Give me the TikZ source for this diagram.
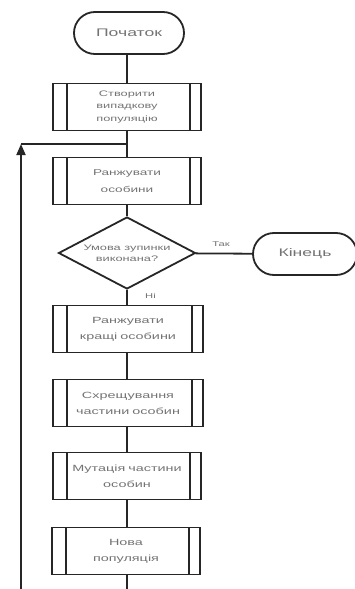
\documentclass[tikz,border=0pt]{standalone}
\usepackage{fontspec}
\setmainfont{Liberation Sans}
\newfontfamily\widesans[FakeStretch=1.6]{Liberation Sans}
\usetikzlibrary{shapes.geometric,shapes.misc,arrows.meta}
\begin{document}
\begin{tikzpicture}[x=1pt,y=-1pt,
  txt/.style={text=black!55,font=\widesans\fontsize{9}{16}\selectfont,align=center},
  term/.style={txt,font=\widesans\fontsize{11}{13}\selectfont,draw=black!85,line width=1.8pt,rounded rectangle,minimum width=110pt,minimum height=42pt,inner sep=0pt},
  subproc/.style={txt,draw=black!85,line width=1.8pt,rectangle,minimum width=148pt,minimum height=47pt,inner sep=0pt,text width=130pt,
    path picture={
      \draw[black!85,line width=1.6pt] ([xshift=14pt]path picture bounding box.north west) -- ([xshift=14pt]path picture bounding box.south west);
      \draw[black!85,line width=1.6pt] ([xshift=-11pt]path picture bounding box.north east) -- ([xshift=-11pt]path picture bounding box.south east);
    }},
  dec/.style={txt,font=\widesans\fontsize{8}{11}\selectfont,draw=black!85,line width=1.8pt,diamond,aspect=2.05,minimum width=137pt,minimum height=72pt,inner sep=0pt},
  conn/.style={black!85,line width=1.8pt},
  lbl/.style={text=black!55,font=\widesans\fontsize{7}{8}\selectfont}
]
\useasboundingbox (0,0) rectangle (355,589);
\node[term] (start) at (129,33) {Початок};
\node[subproc,font=\widesans\fontsize{8}{12.5}\selectfont] (p1) at (127,107) {Створити\\випадкову\\популяцію};
\node[subproc,font=\widesans\fontsize{8.5}{17}\selectfont] (p2) at (127,181) {Ранжувати\\особини};
\node[dec] (d) at (127,253) {Умова зупинки\\виконана?};
\node[term,minimum width=104pt] (end) at (305,254) {Кінець};
\node[subproc,minimum width=150pt] (p3) at (128,329) {Ранжувати\\кращі особини};
\node[subproc,minimum width=150pt] (p4) at (128,403) {Схрещування\\частини особин};
\node[subproc] (p5) at (127,476) {Мутація частини\\особин};
\node[subproc] (p6) at (126,551) {Нова\\популяція};
\coordinate (join) at (127,144);
\coordinate (corner) at (21,144);
\coordinate (bot) at (127,589);
\coordinate (lbot) at (21,589);
\draw[conn] (start.south-|p1.north) -- (p1);
\draw[conn] (p1) -- (join) -- (p2);
\draw[conn] (p2) -- (d);
\draw[conn] (d) -- node[lbl,above=3pt,pos=0.45] {Так} (end);
\draw[conn] (d) -- node[lbl,right=14pt,pos=0.4] {Ні} (p3.north-|d.south);
\draw[conn] (p3.south-|d.south) -- (p4.north-|d.south);
\draw[conn] (p4.south-|d.south) -- (p5.north-|d.south);
\draw[conn] (p5) -- (p6.north-|p5.south);
\draw[conn] (p6.south-|p5.south) -- (bot);
\draw[conn,-{Triangle[length=11pt,width=9pt]}] (lbot) -- (corner);
\draw[conn] (corner) -- (join);
\end{tikzpicture}
\end{document}
